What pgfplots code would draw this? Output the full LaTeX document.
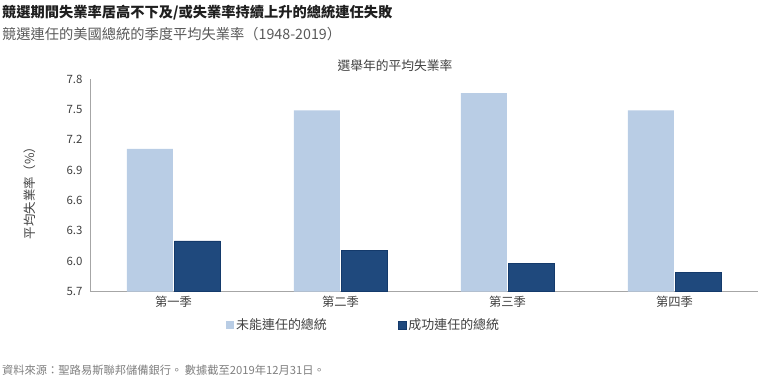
\documentclass[border=0pt]{standalone}
\usepackage{fontspec}
\setmainfont{Noto Sans CJK TC}
\usepackage{pgfplots}
\pgfplotsset{compat=1.18}
\definecolor{lightbar}{HTML}{B9CDE5}
\definecolor{darkbar}{HTML}{1F497D}
\definecolor{darkedge}{HTML}{143A6B}
\definecolor{axisgray}{HTML}{A6A6A6}
\definecolor{textgray}{HTML}{404040}
\definecolor{subgray}{HTML}{595959}
\definecolor{footgray}{HTML}{7F7F7F}
\pgfplotsset{/pgfplots/ybar legend/.style={/pgfplots/legend image code/.code={\path[##1] (0bp,-4bp) rectangle (8bp,4bp);}}}
\begin{document}
\begin{tikzpicture}[x=1bp,y=1bp]
\path[use as bounding box] (0,0) rectangle (760,387);
\node[anchor=west, inner sep=0pt, font=\fontsize{14.3}{16}\selectfont\bfseries, text=black!88] at (2,374) {競選期間失業率居高不下及/或失業率持續上升的總統連任失敗};
\node[anchor=west, inner sep=0pt, font=\fontsize{14.3}{16}\selectfont, text=subgray] at (2,353) {競選連任的美國總統的季度平均失業率（1948-2019）};
\node[anchor=center, inner sep=0pt, font=\fontsize{12.8}{14}\selectfont, text=textgray] at (395,321) {選舉年的平均失業率};
\node[anchor=center, inner sep=0pt, rotate=90, font=\fontsize{12.5}{14}\selectfont, text=textgray] at (30,197) {平均失業率（\%）};
\node[anchor=west, inner sep=0pt, font=\fontsize{11.3}{13}\selectfont, text=footgray] at (2,17) {資料來源：聖路易斯聯邦儲備銀行。 數據截至2019年12月31日。};
\begin{axis}[
  at={(90bp,95.5bp)}, anchor=south west,
  scale only axis, width=668bp, height=212.5bp,
  xmin=-0.5, xmax=3.5, ymin=5.7, ymax=7.8,
  axis x line*=bottom, axis y line*=left,
  axis line style={axisgray, line width=0.8bp},
  xtick={0,1,2,3}, xticklabels={第一季,第二季,第三季,第四季},
  ytick={5.7,6.0,6.3,6.6,6.9,7.2,7.5,7.8},
  yticklabels={5.7,6.0,6.3,6.6,6.9,7.2,7.5,7.8},
  major tick length=0pt,
  tick label style={font=\fontsize{11.5}{13}\selectfont, text=textgray},
  yticklabel style={xshift=-4bp},
  xticklabel style={yshift=-1bp, font=\fontsize{12.3}{13}\selectfont},
  ybar=1.5bp, bar width=46bp,
  legend style={at={(0.2036,-0.158)}, anchor=west, legend columns=2, draw=none, fill=none, inner sep=0pt,
    font=\fontsize{13}{14}\selectfont, text=textgray,
    /tikz/every even column/.append style={column sep=69bp}},
]
\addplot[fill=lightbar, draw=none] coordinates {(0,7.11) (1,7.49) (2,7.66) (3,7.49)};
\addplot[fill=darkbar, draw=darkedge, line width=0.6bp] coordinates {(0,6.20) (1,6.11) (2,5.98) (3,5.89)};
\legend{未能連任的總統, 成功連任的總統}
\end{axis}
\end{tikzpicture}
\end{document}
